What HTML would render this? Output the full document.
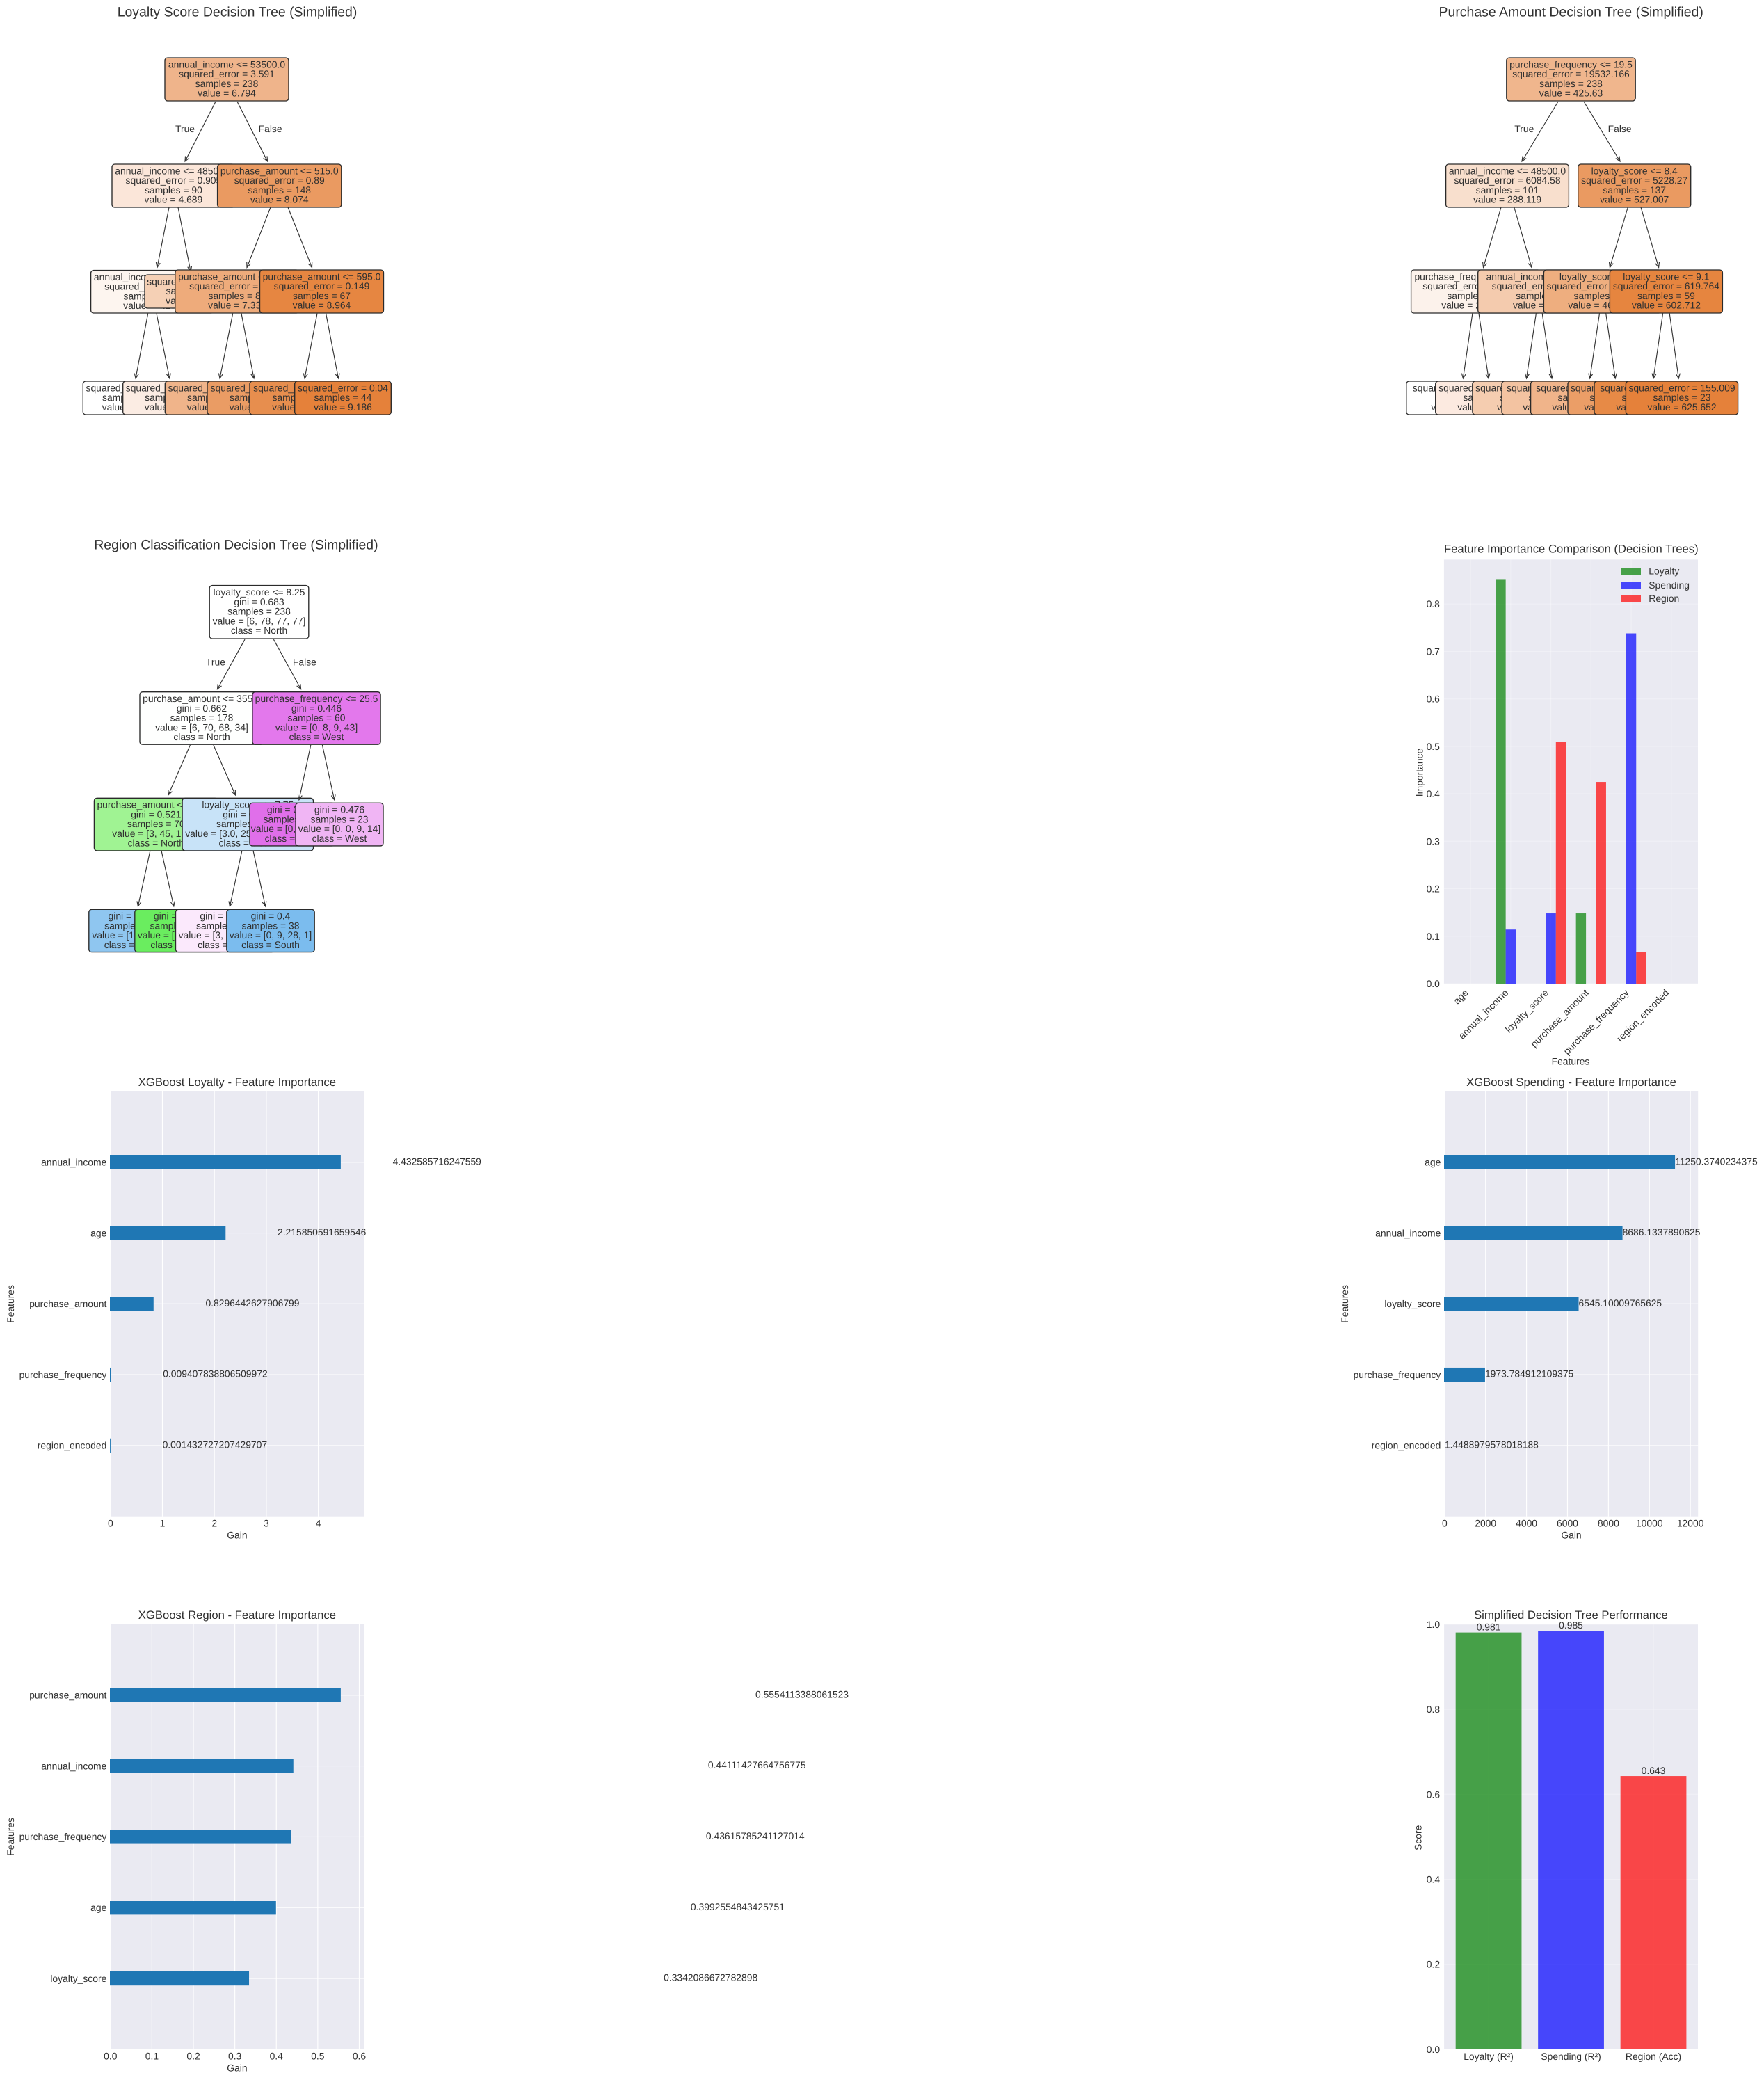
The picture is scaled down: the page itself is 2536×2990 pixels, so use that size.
<!DOCTYPE html>
<html lang="en">
<head>
<meta charset="utf-8">
<title>Decision Tree and XGBoost Model Summary</title>
<style>
  html, body { margin: 0; padding: 0; background: #ffffff; }
  svg { display: block; }
  text { font-family: "Liberation Sans", Arial, sans-serif; fill: #303030; text-rendering: geometricPrecision; }
</style>
</head>
<body>
<svg id="figure" xmlns="http://www.w3.org/2000/svg" width="2536" height="2990" viewBox="0 0 2536 2990">
  <rect x="0" y="0" width="2536" height="2990" fill="#ffffff"></rect>
</svg>
<script>
/* ---------- chart data ---------- */
const fiFeatures = ['age', 'annual_income', 'loyalty_score', 'purchase_amount', 'purchase_frequency', 'region_encoded'];
const fiLoyalty = [0, 0.851, 0, 0.148, 0, 0];
const fiSpending = [0, 0.114, 0.148, 0, 0.738, 0];
const fiRegion = [0, 0, 0.51, 0.425, 0.066, 0];
const fiYTicks = [0, 0.1, 0.2, 0.3, 0.4, 0.5, 0.6, 0.7, 0.8];

const xgbLoyaltyFeatures = ['annual_income', 'age', 'purchase_amount', 'purchase_frequency', 'region_encoded'];
const xgbLoyaltyGain = [4.432585716247559, 2.215850591659546, 0.8296442627906799, 0.009407838806509972, 0.001432727207429707];
const xgbLoyaltyTicks = [0, 1, 2, 3, 4];

const xgbSpendingFeatures = ['age', 'annual_income', 'loyalty_score', 'purchase_frequency', 'region_encoded'];
const xgbSpendingGain = [11250.3740234375, 8686.1337890625, 6545.10009765625, 1973.784912109375, 1.4488979578018188];
const xgbSpendingTicks = [0, 2000, 4000, 6000, 8000, 10000, 12000];

const xgbRegionFeatures = ['purchase_amount', 'annual_income', 'purchase_frequency', 'age', 'loyalty_score'];
const xgbRegionGain = [0.5554113388061523, 0.44111427664756775, 0.43615785241127014, 0.3992554843425751, 0.3342086672782898];
const xgbRegionTicks = [0, 0.1, 0.2, 0.3, 0.4, 0.5, 0.6];

const perfCategories = ['Loyalty (R²)', 'Spending (R²)', 'Region (Acc)'];
const perfScores = [0.981, 0.985, 0.643];
const perfYTicks = [0, 0.2, 0.4, 0.6, 0.8, 1.0];

/* ---------- decision tree diagrams (nodes in drawing order) ---------- */
const loyaltyTree = [
  {c:326, l:237, t:83, b:145, fill:'#efb48b', lines:['annual_income <= 53500.0','squared_error = 3.591','samples = 238','value = 6.794']},
  {c:249.4, l:161, t:236, b:298, fill:'#fbe6d9', lines:['annual_income <= 48500.0','squared_error = 0.905','samples = 90','value = 4.689'], edge:[310,146,266,232]},
  {c:219, l:130.6, t:388.5, b:450, fill:'#fdf5ef', lines:['annual_income <= 45500.0','squared_error = 0.512','samples = 52','value = 4.172'], edge:[243,298,226,384.5]},
  {c:188.5, l:119.3, t:548, b:596, fill:'#ffffff', lines:['squared_error = 0.09','samples = 30','value = 3.712'], edge:[212.7,450.6,195,544]},
  {c:249.6, l:176.7, t:548, b:596, fill:'#fbece3', lines:['squared_error = 0.251','samples = 22','value = 4.853'], edge:[225,450.6,243.7,544]},
  {c:280, l:208, t:395, b:443, fill:'#f5d0b5', lines:['squared_error = 0.342','samples = 38','value = 5.395'], edge:[256,298,274,390]},
  {c:401.7, l:312.6, t:236, b:298, fill:'#ea9a61', lines:['purchase_amount <= 515.0','squared_error = 0.89','samples = 148','value = 8.074'], edge:[341,146,384.5,232]},
  {c:341, l:251.8, t:388, b:450, fill:'#eeab7b', lines:['purchase_amount <= 435.0','squared_error = 0.375','samples = 81','value = 7.335'], edge:[389,298,355,384.5]},
  {c:310.5, l:237.3, t:548, b:596, fill:'#f0b48a', lines:['squared_error = 0.214','samples = 40','value = 6.941'], edge:[334.7,450.6,316,544]},
  {c:371.5, l:298, t:548, b:596, fill:'#ea9c64', lines:['squared_error = 0.163','samples = 41','value = 7.712'], edge:[347,450.6,365,544]},
  {c:462.5, l:373.5, t:388, b:450, fill:'#e68641', lines:['purchase_amount <= 595.0','squared_error = 0.149','samples = 67','value = 8.964'], edge:[414,298,448.5,384.5]},
  {c:433, l:359, t:548, b:596, fill:'#e78e4e', lines:['squared_error = 0.121','samples = 23','value = 8.535'], edge:[456,450.6,438,544]},
  {c:493, l:423.7, t:548, b:596, fill:'#e5813a', lines:['squared_error = 0.04','samples = 44','value = 9.186'], edge:[468.6,450.6,486.5,544]}
];
const purchaseTree = [
  {c:2258.5, l:2165.8, t:83, b:145, fill:'#f0b68d', lines:['purchase_frequency <= 19.5','squared_error = 19532.166','samples = 238','value = 425.63']},
  {c:2167, l:2078.6, t:236, b:298, fill:'#f8dfcd', lines:['annual_income <= 48500.0','squared_error = 6084.58','samples = 101','value = 288.119'], edge:[2240,146,2188,232]},
  {c:2121.8, l:2028.6, t:388, b:450, fill:'#fcf2eb', lines:['purchase_frequency <= 10.5','squared_error = 2605.71','samples = 55','value = 235.218'], edge:[2158,298,2132.5,384.5]},
  {c:2106.9, l:2021.8, t:548, b:596, fill:'#ffffff', lines:['squared_error = 1102.44','samples = 22','value = 196.305'], edge:[2116.9,450.6,2103.4,544]},
  {c:2144.8, l:2063.7, t:548, b:596, fill:'#fceae0', lines:['squared_error = 1430.16','samples = 33','value = 261.158'], edge:[2126,450.6,2140,544]},
  {c:2220.7, l:2124.7, t:388, b:450, fill:'#f4cbae', lines:['annual_income <= 51500.0','squared_error = 3114.25','samples = 46','value = 351.06'], edge:[2176.8,298,2202,384.5]},
  {c:2197.7, l:2116.9, t:548, b:596, fill:'#f5cdb0', lines:['squared_error = 1880.31','samples = 20','value = 331.25'], edge:[2208.4,450.6,2194.5,544]},
  {c:2238.8, l:2159, t:548, b:596, fill:'#f3c3a1', lines:['squared_error = 2310.9','samples = 26','value = 366.308'], edge:[2217.2,450.6,2231,544]},
  {c:2349.7, l:2268.7, t:236, b:298, fill:'#ea9a61', lines:['loyalty_score <= 8.4','squared_error = 5228.27','samples = 137','value = 527.007'], edge:[2277,146,2329,232]},
  {c:2304, l:2219.4, t:388, b:450, fill:'#eeae7f', lines:['loyalty_score <= 7.6','squared_error = 1820.443','samples = 78','value = 469.012'], edge:[2340.3,298,2314.4,384.5]},
  {c:2281, l:2200.6, t:548, b:596, fill:'#f0b48a', lines:['squared_error = 990.17','samples = 36','value = 430.694'], edge:[2299.5,450.6,2285.7,544]},
  {c:2326.8, l:2254, t:548, b:596, fill:'#eb9e67', lines:['squared_error = 812.5','samples = 42','value = 501.857'], edge:[2308.7,450.6,2322.2,544]},
  {c:2395.4, l:2314.4, t:388, b:450, fill:'#e6853f', lines:['loyalty_score <= 9.1','squared_error = 619.764','samples = 59','value = 602.712'], edge:[2359,298,2384.6,384.5]},
  {c:2372.9, l:2292, t:548, b:596, fill:'#e78a46', lines:['squared_error = 410.62','samples = 36','value = 587.861'], edge:[2390.6,450.6,2377,544]},
  {c:2418, l:2337.4, t:548, b:596, fill:'#e5813a', lines:['squared_error = 155.009','samples = 23','value = 625.652'], edge:[2400.2,450.6,2413.3,544]}
];
const regionTree = [
  {c:372.5, l:301.2, t:841.6, b:918, fill:'#ffffff', lines:['loyalty_score <= 8.25','gini = 0.683','samples = 238','value = [6, 78, 77, 77]','class = North']},
  {c:290, l:201, t:994.7, b:1070.2, fill:'#fefffe', lines:['purchase_amount <= 355.0','gini = 0.662','samples = 178','value = [6, 70, 68, 34]','class = North'], edge:[352,919.2,312.5,990.6]},
  {c:224.3, l:135.4, t:1147.3, b:1222.9, fill:'#a0f393', lines:['purchase_amount <= 275.0','gini = 0.521','samples = 70','value = [3, 45, 17, 5]','class = North'], edge:[273.4,1071,241.9,1142.9]},
  {c:191.6, l:127.8, t:1307.3, b:1368.6, fill:'#8fc6f0', lines:['gini = 0.546','samples = 24','value = [1, 8, 14, 1]','class = South'], edge:[215.7,1223.7,198.4,1302.9]},
  {c:257, l:193.8, t:1307.3, b:1368.6, fill:'#6aed5f', lines:['gini = 0.351','samples = 46','value = [2, 37, 3, 4]','class = North'], edge:[232.2,1223.7,249.8,1302.9]},
  {c:356.3, l:262.1, t:1147.3, b:1222.9, fill:'#c8e3f8', lines:['loyalty_score <= 7.75','gini = 0.632','samples = 108','value = [3.0, 25.0, 51.0, 29.0]','class = South'], edge:[306.9,1071,338.4,1142.9]},
  {c:323.5, l:252.5, t:1307.3, b:1368.6, fill:'#fbe9fc', lines:['gini = 0.685','samples = 70','value = [3, 16, 23, 28]','class = West'], edge:[347.7,1223.7,330.4,1302.9]},
  {c:389, l:325.8, t:1307.3, b:1368.6, fill:'#7bbcee', lines:['gini = 0.4','samples = 38','value = [0, 9, 28, 1]','class = South'], edge:[364.2,1223.7,381.5,1302.9]},
  {c:455, l:362.9, t:994.7, b:1070.2, fill:'#e378ec', lines:['purchase_frequency <= 25.5','gini = 0.446','samples = 60','value = [0, 8, 9, 43]','class = West'], edge:[393.4,919.2,432.6,990.6]},
  {c:420, l:358.9, t:1154.3, b:1215.9, fill:'#e06fea', lines:['gini = 0.339','samples = 37','value = [0, 8, 0, 29]','class = West'], edge:[446.8,1071,429.9,1149.8]},
  {c:488, l:425, t:1154.3, b:1215.9, fill:'#f0b5f4', lines:['gini = 0.476','samples = 23','value = [0, 0, 9, 14]','class = West'], edge:[463.4,1071,480.7,1149.8]}
];

/* ---------- helpers ---------- */
const SVG_NS = 'http://www.w3.org/2000/svg';
const figure = document.getElementById('figure');
const AXES_BG = '#eaeaf2';
const BAR_BLUE = '#1f77b4';

function make(tag, parent, props) {
  const node = document.createElementNS(SVG_NS, tag);
  for (const key in props) node.setAttribute(key, props[key]);
  parent.appendChild(node);
  return node;
}
function makeGroup(parent, name) {
  const g = make('g', parent, {});
  
  
  return g;
}
function label(parent, name, str, x, y, size, anchor, rotate) {
  const t = make('text', parent, {x: x, y: y, 'font-size': size, 'text-anchor': anchor || 'start'});
  
  
  if (rotate) t.setAttribute('transform', 'rotate(' + rotate + ' ' + x + ' ' + y + ')');
  t.textContent = str;
  return t;
}
function linear(d0, d1, r0, r1) {
  return function (v) { return r0 + (v - d0) * (r1 - r0) / (d1 - d0); };
}
function gridLine(parent, name, x1, y1, x2, y2, opacity) {
  const ln = make('line', parent, {x1: x1, y1: y1, x2: x2, y2: y2, stroke: '#ffffff', 'stroke-width': 1.15, 'stroke-opacity': opacity});
  
  
  return ln;
}
function axesBackground(parent, box) {
  const r = make('rect', parent, {x: box.l, y: box.t, width: box.r - box.l, height: box.b - box.t, fill: AXES_BG});
  
  
  return r;
}

/* ---------- decision tree ---------- */
function drawTree(name, title, titleX, titleY, nodes, trueLabel, falseLabel) {
  const g = makeGroup(figure, name);
  label(g, 'tree-title', title, titleX, titleY, 19.44, 'middle');
  nodes.forEach(function (n, idx) {
    if (n.edge) {
      const [x1, y1, x2, y2] = n.edge;
      const len = Math.hypot(x2 - x1, y2 - y1);
      const ux = (x2 - x1) / len, uy = (y2 - y1) / len;
      const hl = 7, hw = 3;
      const bx = x2 - ux * hl, by = y2 - uy * hl;
      const d = 'M' + x1 + ' ' + y1 + 'L' + x2 + ' ' + y2 +
        'M' + (bx - uy * hw) + ' ' + (by + ux * hw) + 'L' + x2 + ' ' + y2 + 'L' + (bx + uy * hw) + ' ' + (by - ux * hw);
      const edge = make('path', g, {d: d, fill: 'none', stroke: '#333333', 'stroke-width': 1.15});
      
      
    }
    const nodeGroup = makeGroup(g, 'tree-node-' + idx);
    const w = (n.c - n.l) * 2;
    const box = make('rect', nodeGroup, {x: n.l, y: n.t, width: w, height: n.b - n.t, rx: 4, ry: 4, fill: n.fill, stroke: '#2a2a2a', 'stroke-width': 1.35});
    
    
    n.lines.forEach(function (line, i) {
      label(nodeGroup, 'tree-node-text', line, n.c, n.t + 14.4 + i * 13.75, 13.89, 'middle');
    });
  });
  label(g, 'edge-label-true', 'True', trueLabel[0], trueLabel[1], 13.89, 'middle');
  label(g, 'edge-label-false', 'False', falseLabel[0], falseLabel[1], 13.89, 'middle');
}

/* ---------- XGBoost horizontal bars ---------- */
function drawXgb(name, title, features, gains, ticks, box, yTitleX) {
  const g = makeGroup(figure, name);
  axesBackground(g, box);
  const xMax = Math.max.apply(null, gains) * 1.1;
  const x = linear(0, xMax, box.l, box.r);
  const y = linear(0, 6, box.b, box.t);
  const count = features.length;
  ticks.forEach(function (t) {
    if (t > xMax) return;
    gridLine(g, 'x-gridline', x(t), box.t, x(t), box.b, 1);
  });
  features.forEach(function (f, i) {
    gridLine(g, 'y-gridline', box.l, y(count - i), box.r, y(count - i), 1);
  });
  features.forEach(function (f, i) {
    const yc = y(count - i);
    const top = y(count - i + 0.1), bottom = y(count - i - 0.1);
    const span = x(gains[i]) - x(0);
    if (span > 0.05) {
      const bar = make('rect', g, {x: x(0) - 0.8, y: top, width: span + 0.8, height: bottom - top, fill: BAR_BLUE});
      
      
    }
    label(g, 'value-label-' + f, String(gains[i]), x(gains[i] + 1), yc + 3.6, 13.89, 'start');
    label(g, 'y-tick-label-' + f, f, box.l - 5.5, yc + 4.8, 13.89, 'end');
  });
  ticks.forEach(function (t) {
    if (t > xMax) return;
    const tickText = (ticks[1] < 1) ? t.toFixed(1) : String(t);
    label(g, 'x-tick-label', tickText, x(t), box.b + 14.8, 13.89, 'middle');
  });
  label(g, 'chart-title', title, (box.l + box.r) / 2, box.t - 8, 16.67, 'middle');
  label(g, 'x-axis-title', 'Gain', (box.l + box.r) / 2, box.b + 31.7, 13.89, 'middle');
  label(g, 'y-axis-title', 'Features', yTitleX + 5, (box.t + box.b) / 2, 13.89, 'middle', -90);
}

/* ---------- feature importance comparison ---------- */
function drawImportance() {
  const box = {l: 2075.9, r: 2441, t: 804.4, b: 1414};
  const g = makeGroup(figure, 'feature-importance-chart');
  axesBackground(g, box);
  const maxV = Math.max.apply(null, fiLoyalty.concat(fiSpending, fiRegion));
  const barW = 0.25;
  const x = linear(-1.5 * barW - 0.2875, fiFeatures.length - 1 + 1.5 * barW + 0.2875, box.l, box.r);
  const y = linear(0, maxV * 1.05, box.b, box.t);
  fiYTicks.forEach(function (t) {
    gridLine(g, 'y-gridline', box.l, y(t), box.r, y(t), 0.3);
    label(g, 'y-tick-label', t.toFixed(1), box.l - 6, y(t) + 5, 13.89, 'end');
  });
  fiFeatures.forEach(function (f, i) {
    gridLine(g, 'x-gridline', x(i), box.t, x(i), box.b, 0.3);
  });
  const series = [
    {key: 'loyalty', values: fiLoyalty, color: '#008000', off: -1},
    {key: 'spending', values: fiSpending, color: '#0000ff', off: 0},
    {key: 'region', values: fiRegion, color: '#ff0000', off: 1}
  ];
  series.forEach(function (s) {
    s.values.forEach(function (v, i) {
      const x0 = x(i + s.off * barW - barW / 2);
      const x1 = x(i + s.off * barW + barW / 2);
      const bar = make('rect', g, {x: x0, y: y(v), width: x1 - x0, height: y(0) - y(v), fill: s.color, 'fill-opacity': 0.7});
      
      
    });
  });
  fiFeatures.forEach(function (f, i) {
    label(g, 'x-tick-label-' + f, f, x(i) - 2.5, box.b + 14, 13.89, 'end', -45);
  });
  label(g, 'chart-title', 'Feature Importance Comparison (Decision Trees)', 2258.8, box.t - 10, 16.67, 'middle');
  label(g, 'x-axis-title', 'Features', 2258, 1530.5, 13.89, 'middle');
  label(g, 'y-axis-title', 'Importance', 2045.3, 1110.5, 13.89, 'middle', -90);

  const legendRows = [['Loyalty', '#008000', 821.2], ['Spending', '#0000ff', 841.6], ['Region', '#ff0000', 860.5]];
  const legend = makeGroup(g, 'legend');
  legendRows.forEach(function (row) {
    const swatch = make('rect', legend, {x: 2331, y: row[2] - 5, width: 28, height: 10, fill: row[1], 'fill-opacity': 0.7});
    
    
    label(legend, 'legend-label-' + row[0].toLowerCase(), row[0], 2370.3, row[2] + 4.5, 13.89, 'start');
  });
}

/* ---------- performance bars ---------- */
function drawPerformance() {
  const box = {l: 2076.1, r: 2441, t: 2335, b: 2945.8};
  const g = makeGroup(figure, 'tree-performance-chart');
  axesBackground(g, box);
  const x = linear(-0.54, perfCategories.length - 1 + 0.54, box.l, box.r);
  const y = linear(0, 1, box.b, box.t);
  perfYTicks.forEach(function (t) {
    gridLine(g, 'y-gridline', box.l, y(t), box.r, y(t), 0.3);
    label(g, 'y-tick-label', t.toFixed(1), box.l - 6, y(t) + 5, 13.89, 'end');
  });
  perfCategories.forEach(function (c, i) {
    gridLine(g, 'x-gridline', x(i), box.t, x(i), box.b, 0.3);
  });
  const colors = ['#008000', '#0000ff', '#ff0000'];
  perfCategories.forEach(function (c, i) {
    const x0 = x(i - 0.4), x1 = x(i + 0.4);
    const bar = make('rect', g, {x: x0, y: y(perfScores[i]), width: x1 - x0, height: y(0) - y(perfScores[i]), fill: colors[i], 'fill-opacity': 0.7});
    
    
    label(g, 'value-label-' + i, perfScores[i].toFixed(3), x(i), y(perfScores[i] + 0.005), 13.89, 'middle');
    label(g, 'x-tick-label-' + i, c, x(i), box.b + 15, 13.89, 'middle');
  });
  label(g, 'chart-title', 'Simplified Decision Tree Performance', 2258.4, box.t - 8, 16.67, 'middle');
  label(g, 'y-axis-title', 'Score', 2043.5, 2641.8, 13.89, 'middle', -90);
}

/* ---------- compose ---------- */
drawTree('loyalty-tree', 'Loyalty Score Decision Tree (Simplified)', 341, 23.5, loyaltyTree, [266, 190], [388.6, 190]);
drawTree('purchase-tree', 'Purchase Amount Decision Tree (Simplified)', 2258.7, 23.5, purchaseTree, [2191.3, 190], [2328.6, 190]);
drawTree('region-tree', 'Region Classification Decision Tree (Simplified)', 339.4, 789.5, regionTree, [309.9, 956.4], [437.9, 956.4]);
drawImportance();
drawXgb('xgb-loyalty-chart', 'XGBoost Loyalty - Feature Importance', xgbLoyaltyFeatures, xgbLoyaltyGain, xgbLoyaltyTicks, {l: 158.8, r: 523, t: 1569, b: 2179.7}, 15.2);
drawXgb('xgb-spending-chart', 'XGBoost Spending - Feature Importance', xgbSpendingFeatures, xgbSpendingGain, xgbSpendingTicks, {l: 2076.8, r: 2441.2, t: 1569, b: 2179.7}, 1932.9);
drawXgb('xgb-region-chart', 'XGBoost Region - Feature Importance', xgbRegionFeatures, xgbRegionGain, xgbRegionTicks, {l: 158.8, r: 523, t: 2335, b: 2945.8}, 15.2);
drawPerformance();
</script>
</body>
</html>
